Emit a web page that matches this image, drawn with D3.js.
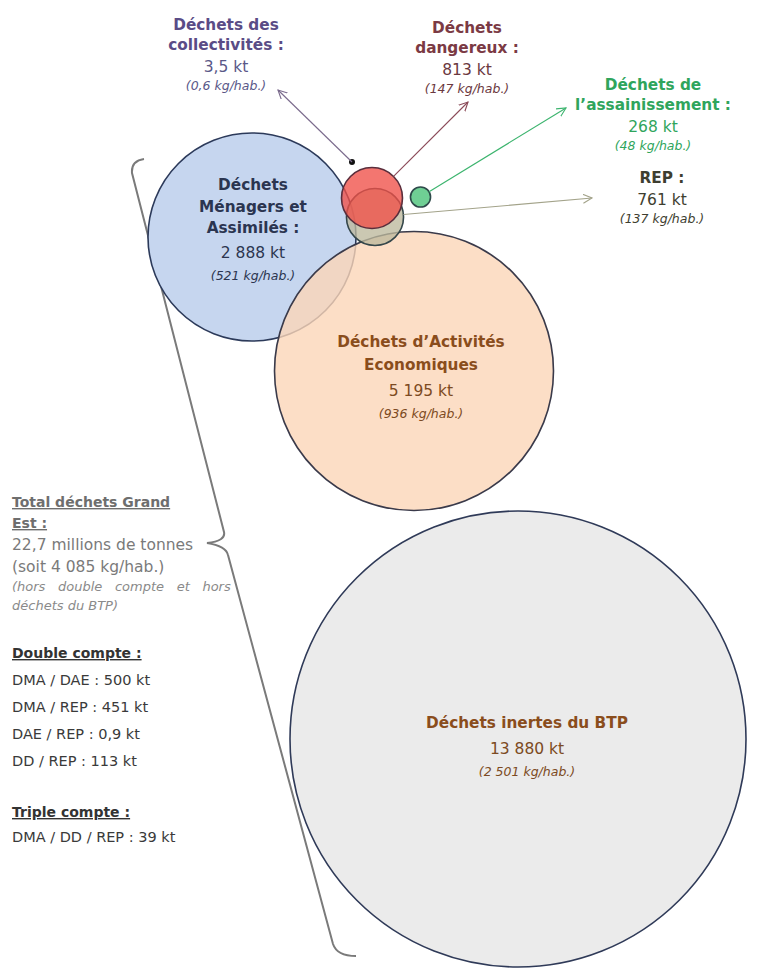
<!DOCTYPE html>
<html lang="fr">
<head>
<meta charset="utf-8">
<script src="https://cdn.jsdelivr.net/npm/d3@7"></script>
<style>
  html, body { margin: 0; padding: 0; background: #ffffff; }
  svg { display: block; }
  text { font-family: "DejaVu Sans", Verdana, sans-serif; }
</style>
</head>
<body>
<svg id="chart" width="758" height="974"></svg>
<script>
// Waste streams of the Grand Est region (kt per year and kg per inhabitant)
const categories = [
  "Déchets des collectivités",
  "Déchets dangereux",
  "Déchets de l’assainissement",
  "REP",
  "Déchets Ménagers et Assimilés",
  "Déchets d’Activités Economiques",
  "Déchets inertes du BTP"
];
const titleLines = [
  ["Déchets des", "collectivités :"],
  ["Déchets", "dangereux :"],
  ["Déchets de", "l’assainissement :"],
  ["REP :"],
  ["Déchets", "Ménagers et", "Assimilés :"],
  ["Déchets d’Activités", "Economiques"],
  ["Déchets inertes du BTP"]
];
const tonnagesKt = [3.5, 813, 268, 761, 2888, 5195, 13880];
const kgPerInhabitant = [0.6, 147, 48, 137, 521, 936, 2501];

// Overlaps between streams
const doubleCountPairs = ["DMA / DAE", "DMA / REP", "DAE / REP", "DD / REP"];
const doubleCountKt = [500, 451, 0.9, 113];
const tripleCountSets = ["DMA / DD / REP"];
const tripleCountKt = [39];

// Regional total
const totalMillionTonnes = 22.7;
const totalKgPerInhabitant = 4085;

// ---- layout & styling (hand-placed bubble diagram) ----
const bubbleCentres = [
  [352, 162], [372, 198], [420.5, 197], [375, 217],
  [252, 237], [414, 371], [518, 739]
];
const fills   = ["#111111", "#ef4f48", "#6fcf94", "#bdb99c", "#c6d6ef", "#fbd6b8", "#ebebeb"];
const opacity = [1, 0.78, 1, 0.78, 1, 0.8, 1];
const strokes = ["#111111", "#5a2e3c", "#2e4a4a", "#34464a", "#2c3a5a", "#3a3a4a", "#2f3a58"];
const titleColours = ["#5a4c86", "#7b3a44", "#2fa55c", "#3e3e30", "#2b3550", "#8a4d1c", "#8a4d1c"];
const valueColours = ["#5a5888", "#6b3840", "#2fa55c", "#3e3e30", "#2b3550", "#7c4a22", "#7c4a22"];
const labelAnchors = [[226, 30], [467, 33], [653, 90], [662, 183], [253, 190], [421, 347], [527, 728]];
const arrowTargets = [[278, 90], [468, 102], [566, 108], [592, 198], null, null, null];
const arrowColours = ["#7a6a8c", "#8b4a58", "#3cb46e", "#a3a38a", null, null, null];
const drawOrder = [4, 5, 6, 3, 1, 2, 0];

const fr = d3.formatLocale({decimal: ",", thousands: " ", grouping: [3], currency: ["", " €"]});
const fmt = fr.format(",");

// Radius: area-proportional for the three main streams, linear for the minor ones
const rMain = d3.scaleSqrt().domain([0, d3.max(tonnagesKt)]).range([0, 228]);
const rMinor = d3.scaleLinear().domain([0, 800]).range([0, 30]);
const radius = v => v >= 1000 ? rMain(v) : Math.max(3, rMinor(v));

const data = categories.map((c, i) => ({
  name: c, kt: tonnagesKt[i], kg: kgPerInhabitant[i], lines: titleLines[i],
  cx: bubbleCentres[i][0], cy: bubbleCentres[i][1], r: radius(tonnagesKt[i]),
  fill: fills[i], op: opacity[i], stroke: strokes[i],
  tc: titleColours[i], vc: valueColours[i], anchor: labelAnchors[i],
  target: arrowTargets[i], ac: arrowColours[i]
}));

const svg = d3.select("#chart");
const defs = svg.append("defs");

// Curly brace gathering the streams
svg.append("path")
  .attr("d", "M144,159 Q131,161 132,173 L224,532 Q226,541 207,543 Q226,546 228,555 L333,944 Q337,956 356,956")
  .attr("fill", "none").attr("stroke", "#7a7a7a").attr("stroke-width", 2);

// Bubbles
svg.append("g").selectAll("circle")
  .data(drawOrder.map(i => data[i]))
  .join("circle")
  .attr("cx", d => d.cx).attr("cy", d => d.cy).attr("r", d => d.r)
  .attr("fill", d => d.fill).attr("fill-opacity", d => d.op)
  .attr("stroke", d => d.stroke).attr("stroke-width", d => d.r > 5 ? 1.6 : 0);

// Arrows to the outer labels
const arrowData = data.filter(d => d.target);
arrowData.forEach((d, i) => {
  defs.append("marker")
    .attr("id", "arrow" + i)
    .attr("viewBox", "0 0 10 10").attr("refX", 9).attr("refY", 5)
    .attr("markerWidth", 10).attr("markerHeight", 10)
    .attr("markerUnits", "userSpaceOnUse").attr("orient", "auto")
    .append("path").attr("d", "M0,0.5 L9,5 L0,9.5")
    .attr("fill", "none").attr("stroke", d.ac).attr("stroke-width", 1.1);
});
svg.append("g").selectAll("line")
  .data(arrowData)
  .join("line")
  .each(function(d, i) {
    const dx = d.target[0] - d.cx, dy = d.target[1] - d.cy;
    const len = Math.hypot(dx, dy);
    const start = d.r > 5 ? d.r : 0;
    d3.select(this)
      .attr("x1", d.cx + dx / len * start).attr("y1", d.cy + dy / len * start)
      .attr("x2", d.target[0]).attr("y2", d.target[1])
      .attr("stroke", d.ac).attr("stroke-width", 1.1)
      .attr("marker-end", "url(#arrow" + i + ")");
  });

// Labels: bold title lines, tonnage, italic kg per inhabitant
const kgFmt = v => fmt(v) + " kg/hab.";
data.forEach(d => {
  const g = svg.append("g").attr("text-anchor", "middle");
  let y = d.anchor[1];
  const big = d.kt >= 1000;
  const step = big && d.kt > 5000 ? 23 : (big ? 21.5 : 20);
  d.lines.forEach(line => {
    g.append("text").attr("x", d.anchor[0]).attr("y", y)
      .attr("font-weight", "bold").attr("font-size", 15.3).attr("fill", d.tc).text(line);
    y += step;
  });
  y += big ? 3 : 2;
  g.append("text").attr("x", d.anchor[0]).attr("y", y)
    .attr("font-size", 15.5).attr("fill", d.vc).text(fmt(d.kt) + " kt");
  y += big ? 22 : 18;
  g.append("text").attr("x", d.anchor[0]).attr("y", y)
    .attr("font-size", 12.5).attr("font-style", "italic").attr("fill", d.vc)
    .text("(" + kgFmt(d.kg) + ")");
});

// Left-hand summary block
const left = svg.append("g");
const lx = 12;
const header = (txt, y, colour) => left.append("text").attr("x", lx).attr("y", y)
  .attr("font-family", "'DejaVu Serif', serif").attr("font-weight", "bold")
  .attr("font-size", 14).attr("text-decoration", "underline").attr("fill", colour).text(txt);
const line = (txt, y, colour, opts = {}) => left.append("text").attr("x", lx).attr("y", y)
  .attr("font-size", opts.size || 14.5).attr("font-style", opts.italic ? "italic" : "normal")
  .attr("word-spacing", opts.ws || 0)
  .attr("fill", colour).text(txt);

header("Total déchets Grand", 507, "#6e6e6e");
header("Est :", 528, "#6e6e6e");
line(fmt(totalMillionTonnes) + " millions de tonnes", 550, "#7a7a7a", {size: 15.5});
line("(soit " + fmt(totalKgPerInhabitant) + " kg/hab.)", 572, "#7a7a7a", {size: 15.5});
line("(hors double compte et hors", 591, "#8a8a8a", {italic: true, size: 13, ws: 8.5});
line("déchets du BTP)", 610, "#8a8a8a", {italic: true, size: 13});

header("Double compte :", 658, "#333333");
doubleCountPairs.forEach((p, i) => line(p + " : " + fmt(doubleCountKt[i]) + " kt", 685 + i * 27, "#3a3a3a"));
header("Triple compte :", 817, "#333333");
tripleCountSets.forEach((p, i) => line(p + " : " + fmt(tripleCountKt[i]) + " kt", 842 + i * 27, "#3a3a3a"));
</script>
</body>
</html>
